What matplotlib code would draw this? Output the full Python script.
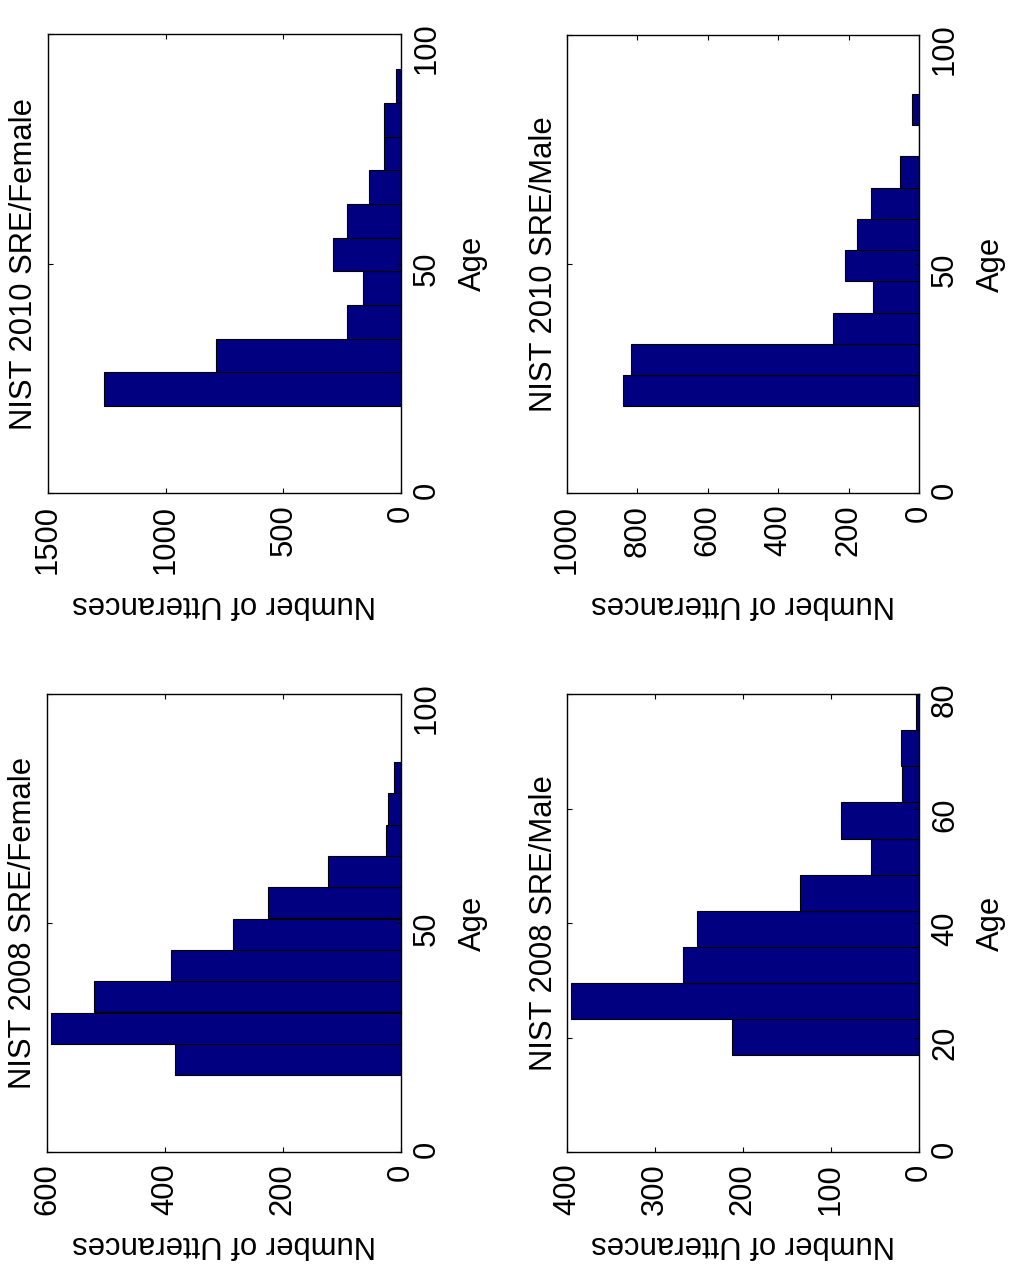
import matplotlib

matplotlib.use("Agg")
import matplotlib.pyplot as plt

plt.rcParams["font.family"] = ["Liberation Sans", "DejaVu Sans"]
plt.rcParams["font.size"] = 22.3

# ----------------- DATA -----------------
# age bin centres and counts per histogram
age_2010_f = [22.7, 30.0, 37.3, 44.7, 52.0, 59.3, 66.7, 74.0, 81.3, 88.7]
cnt_2010_f = [1262, 786, 228, 160, 288, 228, 135, 71, 71, 21]

age_2010_m = [22.4, 29.2, 36.0, 42.8, 49.6, 56.5, 63.3, 70.1, 76.9, 83.8]
cnt_2010_m = [842, 818, 245, 132, 210, 175, 136, 54, 0, 19]

age_2008_f = [20.2, 27.0, 33.9, 40.7, 47.5, 54.4, 61.2, 68.0, 74.9, 81.7]
cnt_2008_f = [383, 594, 521, 389, 284, 226, 124, 25, 22, 12]

age_2008_m = [20.1, 26.4, 32.7, 39.0, 45.3, 51.6, 57.9, 64.2, 70.5, 76.8]
cnt_2008_m = [212, 396, 268, 252, 135, 54, 89, 19, 21, 3]

titles = ["NIST 2010 SRE/Female", "NIST 2010 SRE/Male",
          "NIST 2008 SRE/Female", "NIST 2008 SRE/Male"]
count_ticks = [[0, 500, 1000, 1500], [0, 200, 400, 600, 800, 1000],
               [0, 200, 400, 600], [0, 100, 200, 300, 400]]
age_ticks = [[0, 50, 100], [0, 50, 100], [0, 50, 100], [0, 20, 40, 60, 80]]
# ---------------------------------------------------------------

BAR = "#000080"
W, H = 1009, 1275

fig = plt.figure(figsize=(W / 100, H / 100), dpi=100)

# box positions in pixels: left, top, right, bottom, ylabel offset below box
boxes = [(48, 34, 401, 493, 111), (567, 35, 919, 493, 111),
         (47, 694, 401, 1152, 92), (567, 694, 919, 1152, 92)]
series = [(age_2010_f, cnt_2010_f), (age_2010_m, cnt_2010_m),
          (age_2008_f, cnt_2008_f), (age_2008_m, cnt_2008_m)]

for (l, t, r, b, yoff), (ages, cnts), title, cticks, aticks in zip(
        boxes, series, titles, count_ticks, age_ticks):
    ax = fig.add_axes([l / W, 1 - b / H, (r - l) / W, (b - t) / H])
    binw = ages[1] - ages[0]
    ax.barh(ages, cnts, height=binw, color=BAR, edgecolor="black", linewidth=0.8)
    ax.set_xlim(cticks[-1], 0)
    ax.set_ylim(aticks[0], aticks[-1])
    ax.set_xticks(cticks)
    ax.set_yticks(aticks)
    ax.tick_params(direction="in", length=3.6, width=0.8,
                   top=True, bottom=True, left=True, right=True,
                   labelleft=False, labelright=True, labelrotation=90)
    ax.tick_params(axis="y", pad=8.0)
    ax.tick_params(axis="x", pad=8.4)
    for s in ax.spines.values():
        s.set_linewidth(1.0)

    pw, ph = r - l, b - t
    # title sits left of the box (original figure is rotated)
    ax.text(-23.5 / pw, 0.5, title, rotation=90, ha="center", va="center",
            transform=ax.transAxes)
    ax.text(1 + 72 / pw, 0.5, "Age", rotation=90, ha="center", va="center",
            transform=ax.transAxes)
    ax.text(0.5, -yoff / ph, "Number of Utterances", rotation=180,
            ha="center", va="center", transform=ax.transAxes)

fig.savefig("out.png", dpi=100)
